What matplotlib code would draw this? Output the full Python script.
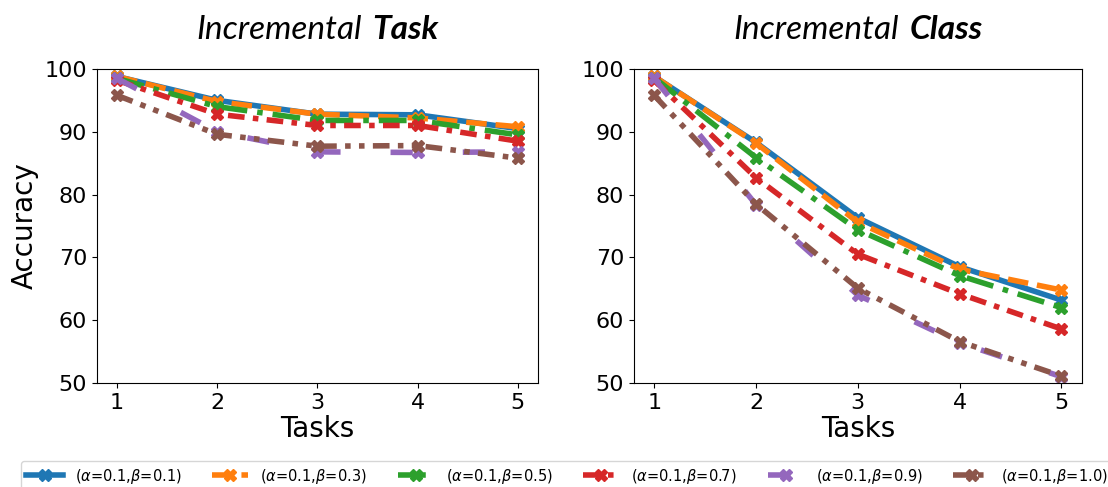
import matplotlib
matplotlib.use("Agg")
import matplotlib.pyplot as plt
from matplotlib.offsetbox import TextArea, HPacker, AnchoredOffsetbox

tasks = [1, 2, 3, 4, 5]

labels = [r"($\alpha$=0.1,$\beta$=0.1)", r"($\alpha$=0.1,$\beta$=0.3)",
          r"($\alpha$=0.1,$\beta$=0.5)", r"($\alpha$=0.1,$\beta$=0.7)",
          r"($\alpha$=0.1,$\beta$=0.9)", r"($\alpha$=0.1,$\beta$=1.0)"]

# Incremental Task accuracy
task_b01 = [98.8, 95.0, 92.8, 92.7, 90.5]
task_b03 = [98.8, 94.8, 92.8, 92.2, 90.8]
task_b05 = [98.5, 94.0, 91.8, 91.8, 89.5]
task_b07 = [98.2, 92.8, 91.0, 91.0, 88.5]
task_b09 = [98.5, 90.0, 86.8, 86.7, 86.8]
task_b10 = [95.8, 89.6, 87.7, 87.8, 85.8]

# Incremental Class accuracy
class_b01 = [98.8, 88.3, 76.3, 68.5, 63.2]
class_b03 = [98.8, 88.2, 75.6, 68.1, 64.8]
class_b05 = [98.6, 85.9, 74.4, 67.1, 62.0]
class_b07 = [98.2, 82.7, 70.5, 64.2, 58.6]
class_b09 = [98.5, 78.4, 64.0, 56.4, 51.0]
class_b10 = [95.8, 78.5, 65.1, 56.6, 51.1]

colors = ["#1f77b4", "#ff7f0e", "#2ca02c", "#d62728", "#9467bd", "#8c564b"]
styles = ["-", "--", (0, (5, 1.8, 1, 1.8)), (0, (3, 1.5, 1, 1.5)),
          (0, (4, 9)), (0, (3, 1.5, 1, 1.5, 1, 1.5))]

fig = plt.figure(figsize=(11.08, 4.87), dpi=100)
ax1 = fig.add_axes([0.0875, 0.2136, 0.398, 0.6448])
ax2 = fig.add_axes([0.572, 0.2136, 0.4043, 0.6448])


def draw(ax, series, word):
    for ys, c, ls, lab in zip(series, colors, styles, labels):
        ax.plot(tasks, ys, color=c, linestyle=ls, linewidth=4,
                marker="X", markersize=9, label=lab)
    ax.set_ylim(50, 100)
    ax.set_xticks(tasks)
    ax.set_yticks([50, 60, 70, 80, 90, 100])
    ax.tick_params(labelsize=16)
    ax.set_xlabel("Tasks", fontsize=20, labelpad=2)
    # title: italic "Incremental" + bold italic word
    t1 = TextArea("Incremental", textprops=dict(family="Lato", style="italic", size=24))
    t2 = TextArea(word, textprops=dict(family="Lato", style="italic", weight="bold", size=24))
    box = HPacker(children=[t1, t2], align="baseline", pad=0, sep=8)
    anchored = AnchoredOffsetbox(loc="lower center", child=box, pad=0, frameon=False,
                                 bbox_to_anchor=(0.5, 1.075), bbox_transform=ax.transAxes,
                                 borderpad=0)
    ax.add_artist(anchored)


draw(ax1, [task_b01, task_b03, task_b05, task_b07, task_b09, task_b10], "Task")
draw(ax2, [class_b01, class_b03, class_b05, class_b07, class_b09, class_b10], "Class")
ax1.set_ylabel("Accuracy", fontsize=20)

handles, labs = ax1.get_legend_handles_labels()
fig.legend(handles, labs, loc="lower left", bbox_to_anchor=(0.012, -0.024, 1.0, 0.07),
           mode="expand", ncol=6, fontsize=10.5, handlelength=2.5)

fig.savefig("out.png", dpi=100)
